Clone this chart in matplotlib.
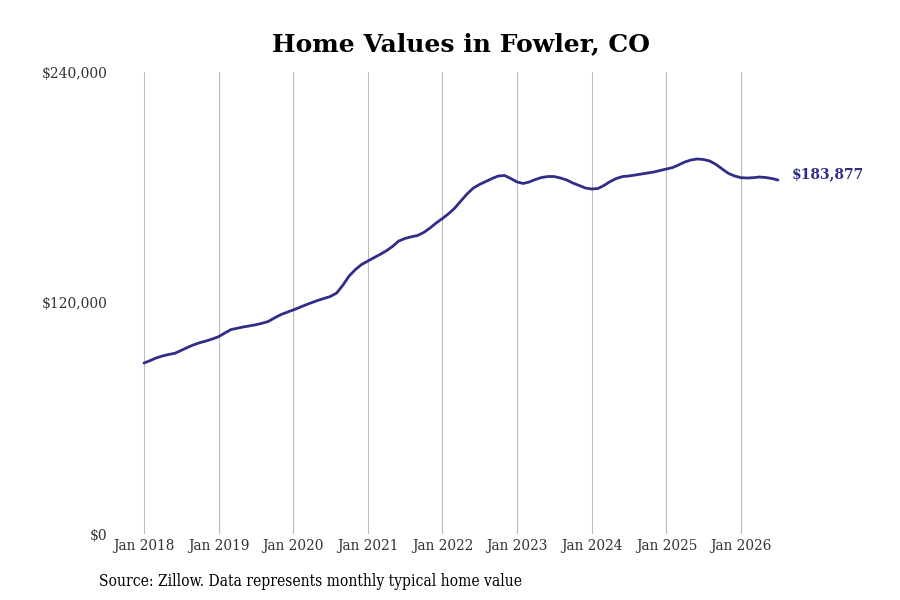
'''
home values chart for Fowler, CO
'''

import datetime as dt
import matplotlib
matplotlib.use('Agg')
import matplotlib.pyplot as plt
import matplotlib.dates as mdates
from matplotlib.ticker import FuncFormatter

plt.rcParams['font.family'] = ['DejaVu Serif']

title = 'Home Values in Fowler, CO'
source = 'Source: Zillow. Data represents monthly typical home value'
line_color = '#2f2d88'

# monthly typical home value, Jan 2018 .. Jul 2026
values = [
    88800, 90130, 91430, 92470, 93250, 93870, 95320, 96880, 98290, 99380, 100260, 101300,
    102490, 104420, 106130, 106860, 107530, 108100, 108680, 109450, 110390, 112210, 113920, 115170,
    116360, 117660, 118960, 120210, 121350, 122390, 123380, 125190, 129350, 134030, 137400, 140000,
    141820, 143640, 145190, 147120, 149350, 152210, 153510, 154390, 155060, 156620, 158960, 161560,
    163900, 166500, 169200, 172990, 176620, 179740, 181560, 183120, 184680, 185980, 186240, 184680,
    182860, 182080, 182860, 184160, 185200, 185710, 185710, 184930, 183900, 182340, 181040, 179740,
    179220, 179480, 181040, 183120, 184680, 185710, 185980, 186490, 187020, 187530, 188050, 188830,
    189610, 190390, 191690, 193250, 194290, 194810, 194550, 193770, 191950, 189610, 187280, 185980,
    185090, 184930, 185090, 185450, 185190, 184680, 183877,
]
dates = [dt.date(2018 + i // 12, i % 12 + 1, 1) for i in range(len(values))]
years = list(range(2018, 2027))
tick_dates = [dt.date(y, 1, 1) for y in years]
tick_labels = ['Jan %d' % y for y in years]
y_ticks = [0, 120000, 240000]

fig = plt.figure(figsize=(9, 6), dpi=100)
ax = fig.add_axes([112 / 900, 66 / 600, (800 - 112) / 900, 462 / 600])

ax.plot(dates, values, color=line_color, linewidth=2.0, solid_capstyle='round')

# pixel mapping: Jan 2018 at x=144, Jan 2026 at x=741
d0 = mdates.date2num(dt.date(2018, 1, 1))
d8 = mdates.date2num(dt.date(2026, 1, 1))
ppd = (741 - 144) / (d8 - d0)
ax.set_xlim(d0 - (144 - 112) / ppd, d0 + (800 - 144) / ppd)
ax.set_ylim(0, 240000)

ax.set_xticks(tick_dates)
ax.set_xticklabels(tick_labels)
ax.set_yticks(y_ticks)
ax.yaxis.set_major_formatter(FuncFormatter(lambda v, p: '${:,.0f}'.format(v)))
ax.tick_params(axis='x', length=0, labelsize=11, colors='#333333', pad=3.5)
ax.tick_params(axis='y', length=0, labelsize=10, colors='#333333', pad=3)
for lab in ax.get_xticklabels():
    lab.set_fontstretch('condensed')

ax.grid(axis='x', color='#bbbbbb', linewidth=0.8)
ax.grid(axis='y', visible=False)
for s in ax.spines.values():
    s.set_visible(False)

ax.annotate('${:,.0f}'.format(values[-1]), xy=(dates[-1], values[-1]),
            xytext=(10, 4), textcoords='offset points', color=line_color,
            fontsize=10, fontweight='bold', va='center', ha='left')

fig.text(461 / 900, 1 - 44 / 600, title, ha='center', va='center',
         fontsize=18, fontweight='bold', color='black')
fig.text(99 / 900, 1 - 582 / 600, source, ha='left', va='center',
         fontsize=11.2, fontstretch='condensed', color='black')

fig.savefig('out.png', dpi=100)
